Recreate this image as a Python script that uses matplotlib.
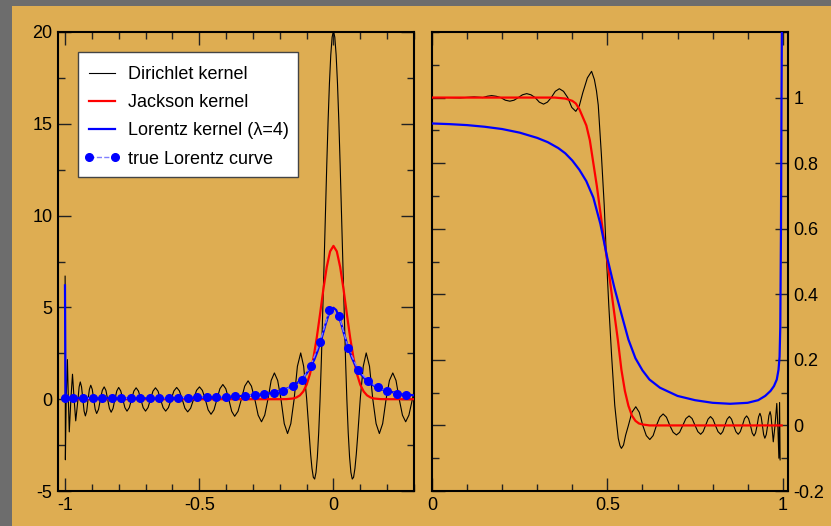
import matplotlib
matplotlib.use('Agg')
import matplotlib.pyplot as plt
from matplotlib.patches import Rectangle
from matplotlib.lines import Line2D
from matplotlib.ticker import MultipleLocator, FixedLocator

plt.rcParams['font.family'] = ['Liberation Sans', 'DejaVu Sans']
plt.rcParams['axes.unicode_minus'] = False

# ---- left panel: approximations of delta(x), N = 64 ----
dir_x = [-0.9995, -0.9985, -0.9955, -0.991, -0.9875, -0.984, -0.978, -0.972, -0.966, -0.960,
         -0.9515, -0.9473, -0.943, -0.9383, -0.9335, -0.9288, -0.924, -0.919, -0.914,
         -0.909, -0.904, -0.8985, -0.893, -0.8875, -0.882, -0.875, -0.868,
         -0.861, -0.854, -0.8475, -0.841, -0.8345, -0.828, -0.821, -0.814,
         -0.807, -0.800, -0.7923, -0.7845, -0.7768, -0.769, -0.7605, -0.752,
         -0.7435, -0.735, -0.7263, -0.7175, -0.7088, -0.700, -0.6908, -0.6815,
         -0.6723, -0.663, -0.6535, -0.644, -0.6345, -0.625, -0.6148, -0.6045,
         -0.5943, -0.584, -0.5738, -0.5635, -0.5533, -0.543, -0.532, -0.521,
         -0.510, -0.499, -0.4883, -0.4775, -0.4668, -0.456, -0.445, -0.434,
         -0.423, -0.412, -0.401, -0.390, -0.379, -0.368, -0.3555, -0.343,
         -0.3305, -0.318, -0.3055, -0.293, -0.2805, -0.268, -0.256, -0.244,
         -0.232, -0.220, -0.2078, -0.1955, -0.1833, -0.171, -0.1588, -0.1465,
         -0.1343, -0.122, -0.111, -0.100, -0.095, -0.090, -0.085, -0.080, -0.075,
         -0.070, -0.065, -0.060, -0.055, -0.050, -0.045, -0.040, -0.035, -0.030,
         -0.025, -0.020, -0.015, -0.010, -0.005, 0.0, 0.005, 0.010, 0.015, 0.020,
         0.025, 0.030, 0.035, 0.040, 0.045, 0.050, 0.055, 0.060, 0.065, 0.070,
         0.075, 0.080, 0.085, 0.090, 0.095, 0.100, 0.111, 0.122, 0.1343, 0.1465,
         0.1588, 0.171, 0.1833, 0.196, 0.2085, 0.221, 0.233, 0.245, 0.257, 0.269,
         0.281, 0.294, 0.302]
dir_y = [6.7, -3.3, 0.0, 2.16, 0.0, -1.78, 0.0, 1.36, 0.0, -1.18,
         0.0, 0.67, 0.94, 0.67, 0.0, -0.65, -0.91, -0.65, 0.0,
         0.54, 0.76, 0.54, 0.0, -0.55, -0.78, -0.55, 0.0,
         0.48, 0.67, 0.48, 0.0, -0.50, -0.71, -0.50, 0.0,
         0.45, 0.64, 0.45, 0.0, -0.46, -0.65, -0.46, 0.0,
         0.44, 0.62, 0.44, 0.0, -0.46, -0.65, -0.46, 0.0,
         0.44, 0.62, 0.44, 0.0, -0.46, -0.65, -0.46, 0.0,
         0.45, 0.64, 0.45, 0.0, -0.49, -0.69, -0.49, 0.0,
         0.48, 0.67, 0.48, 0.0, -0.58, -0.82, -0.58, 0.0,
         0.57, 0.80, 0.57, 0.0, -0.66, -0.93, -0.66, 0.0,
         0.71, 1.00, 0.71, 0.0, -0.87, -1.23, -0.87, 0.0,
         1.02, 1.43, 1.02, 0.0, -1.33, -1.87, -1.33, 0.0,
         1.79, 2.52, 1.79, 0.05, -0.98, -2.04, -3.00, -3.77, -4.25,
         -4.35, -3.99, -3.15, -1.83, -0.05, 2.14, 4.64, 7.33, 10.08,
         12.73, 15.15, 17.2, 18.75, 19.72, 20.05, 19.72, 18.75, 17.2, 15.15,
         12.73, 10.08, 7.33, 4.64, 2.14, -0.05, -1.83, -3.15, -3.99, -4.35,
         -4.25, -3.77, -3.00, -2.04, -0.98, 0.05, 1.79, 2.52, 1.79, 0.0,
         -1.33, -1.87, -1.33, 0.0, 1.02, 1.43, 1.02, 0.0, -0.87, -1.23,
         -0.87, 0.0, 0.6]

jack_x = [-1.0, -0.5, -0.2, -0.175, -0.15, -0.1375, -0.125, -0.1125, -0.1, -0.0875,
          -0.075, -0.0625, -0.05, -0.0375, -0.025, -0.0125, 0.0, 0.0125, 0.025, 0.0375,
          0.05, 0.0625, 0.075, 0.0875, 0.1, 0.1125, 0.125, 0.1375, 0.15, 0.175,
          0.2, 0.3]
jack_y = [0.0, 0.0, 0.0, 0.005, 0.04, 0.10, 0.21, 0.42, 0.79, 1.37,
          2.21, 3.32, 4.63, 5.99, 7.20, 8.05, 8.35, 8.05, 7.20, 5.99,
          4.63, 3.32, 2.21, 1.37, 0.79, 0.42, 0.21, 0.10, 0.04, 0.005,
          0.0, 0.0]

lor_x = [-1.0, -0.998, -0.99, -0.9, -0.8, -0.7, -0.6, -0.5, -0.4, -0.3, -0.25, -0.2,
         -0.18, -0.16, -0.14, -0.12, -0.1, -0.09, -0.08, -0.07, -0.06, -0.05, -0.04,
         -0.03, -0.02, -0.01, 0.0, 0.01, 0.02, 0.03, 0.04, 0.05, 0.06, 0.07, 0.08,
         0.09, 0.1, 0.12, 0.14, 0.16, 0.18, 0.2, 0.25, 0.3]
lor_y = [6.2, 0.3, 0.06, 0.05, 0.05, 0.05, 0.06, 0.08, 0.12, 0.21, 0.29, 0.44,
         0.54, 0.66, 0.83, 1.06, 1.40, 1.62, 1.89, 2.21, 2.59, 3.04, 3.53,
         4.05, 4.52, 4.86, 4.98, 4.86, 4.52, 4.05, 3.53, 3.04, 2.59, 2.21, 1.89,
         1.62, 1.40, 1.06, 0.83, 0.66, 0.54, 0.44, 0.29, 0.21]

true_x = [-1.0, -0.969, -0.933, -0.897, -0.862, -0.826, -0.791, -0.755, -0.719, -0.684,
          -0.648, -0.612, -0.578, -0.543, -0.508, -0.472, -0.437, -0.401, -0.365, -0.329,
          -0.294, -0.259, -0.222, -0.187, -0.152, -0.116, -0.085, -0.050, -0.015, 0.021,
          0.055, 0.092, 0.130, 0.165, 0.199, 0.235, 0.271]
true_y = [0.05, 0.05, 0.05, 0.05, 0.05, 0.06, 0.06, 0.06, 0.06, 0.07,
          0.07, 0.08, 0.08, 0.09, 0.10, 0.11, 0.12, 0.14, 0.16, 0.19,
          0.23, 0.28, 0.36, 0.47, 0.71, 1.07, 1.80, 3.14, 4.85, 4.54,
          2.79, 1.60, 0.98, 0.64, 0.44, 0.31, 0.23]

# ---- right panel: approximations of a step function ----
rdir_x = [0.0, 0.04, 0.08, 0.12, 0.145, 0.1575, 0.170, 0.183, 0.196, 0.209,
          0.222, 0.234, 0.246, 0.258, 0.270, 0.282, 0.294, 0.306, 0.318, 0.329,
          0.340, 0.3515, 0.363, 0.375, 0.387, 0.3985, 0.410, 0.420, 0.430, 0.443,
          0.455, 0.463, 0.469, 0.474, 0.483, 0.491, 0.497, 0.504, 0.512, 0.521,
          0.527, 0.531, 0.536, 0.540, 0.546, 0.552, 0.560, 0.570, 0.581, 0.591,
          0.601, 0.611, 0.621, 0.6305, 0.640, 0.6495, 0.659, 0.6685, 0.678, 0.6875,
          0.697, 0.706, 0.715, 0.724, 0.733, 0.7415, 0.750, 0.758, 0.766, 0.773,
          0.780, 0.787, 0.794, 0.801, 0.808, 0.8155, 0.823, 0.829, 0.835, 0.8415,
          0.848, 0.854, 0.860, 0.8665, 0.873, 0.879, 0.885, 0.891, 0.897, 0.9025,
          0.908, 0.913, 0.918, 0.9225, 0.927, 0.931, 0.935, 0.9385, 0.942, 0.9455,
          0.949, 0.953, 0.957, 0.9605, 0.964, 0.9665, 0.969, 0.973, 0.978, 0.983,
          0.986, 0.989, 0.991, 0.9925]
rdir_y = [1.0, 1.0, 0.999, 1.002, 1.0, 1.004, 1.006, 1.004, 1.0, 0.992,
          0.989, 0.992, 1.0, 1.0085, 1.012, 1.0085, 1.0, 0.986, 0.980, 0.986,
          1.0, 1.019, 1.027, 1.019, 1.0, 0.970, 0.958, 0.975, 1.015, 1.06,
          1.080, 1.055, 1.02, 0.977, 0.825, 0.672, 0.52, 0.367, 0.214, 0.062,
          0.0, -0.039, -0.062, -0.070, -0.06, -0.03, 0.0, 0.04, 0.057, 0.04,
          0.0, -0.031, -0.043, -0.031, 0.0, 0.025, 0.035, 0.025, 0.0, -0.021,
          -0.029, -0.021, 0.0, 0.021, 0.029, 0.021, 0.0, -0.019, -0.027, -0.019,
          0.0, 0.019, 0.027, 0.019, 0.0, -0.019, -0.027, -0.019, 0.0, 0.019,
          0.027, 0.019, 0.0, -0.019, -0.027, -0.019, 0.0, 0.021, 0.029, 0.021,
          0.0, -0.023, -0.032, -0.023, 0.0, 0.026, 0.037, 0.026, 0.0, -0.028,
          -0.039, -0.028, 0.0, 0.03, 0.042, 0.03, 0.0, -0.05, 0.0, 0.067,
          0.0, -0.10, 0.07, -0.105]

rjack_x = [0.0, 0.35, 0.38, 0.40, 0.41, 0.42, 0.43, 0.44, 0.45, 0.46,
           0.47, 0.48, 0.49, 0.50, 0.51, 0.52, 0.53, 0.54, 0.55, 0.56,
           0.57, 0.58, 0.59, 0.60, 0.62, 0.997]
rjack_y = [1.0, 1.0, 0.997, 0.99, 0.982, 0.965, 0.94, 0.915, 0.87, 0.80,
           0.73, 0.65, 0.57, 0.50, 0.42, 0.34, 0.26, 0.17, 0.105, 0.06,
           0.03, 0.014, 0.006, 0.003, 0.0, 0.0]

rlor_x = [0.0, 0.05, 0.1, 0.15, 0.2, 0.25, 0.3, 0.33, 0.36, 0.38,
          0.40, 0.42, 0.44, 0.46, 0.48, 0.50, 0.52, 0.54, 0.56, 0.58,
          0.60, 0.62, 0.65, 0.70, 0.75, 0.80, 0.85, 0.90, 0.93, 0.95,
          0.965, 0.975, 0.983, 0.988, 0.991, 0.993, 0.995, 0.9965, 0.998]
rlor_y = [0.921, 0.919, 0.916, 0.911, 0.904, 0.893, 0.877, 0.864, 0.846, 0.83,
          0.808, 0.78, 0.745, 0.695, 0.615, 0.51, 0.42, 0.34, 0.262, 0.205,
          0.168, 0.140, 0.115, 0.090, 0.077, 0.069, 0.066, 0.069, 0.077, 0.09,
          0.105, 0.12, 0.14, 0.17, 0.21, 0.3, 0.6, 1.0, 1.3]

gold = '#DEAD52'
fig = plt.figure(figsize=(8.31, 5.26), dpi=100)
fig.patch.set_facecolor('#6d6d6d')
fig.add_artist(Rectangle((12 / 831, 0), 1, 520 / 526, transform=fig.transFigure,
                         facecolor=gold, edgecolor='none', zorder=0))

ax1 = fig.add_axes([58 / 831, 35 / 526, 356 / 831, 459 / 526])
ax2 = fig.add_axes([432 / 831, 35 / 526, 356 / 831, 459 / 526])

ax1.plot(dir_x, dir_y, color='black', lw=0.8, zorder=2)
ax1.plot(jack_x, jack_y, color='#ff0000', lw=1.6, zorder=3)
ax1.plot(lor_x, lor_y, color='#0000ff', lw=1.6, zorder=4)
ax1.plot(true_x, true_y, color='#8080ff', ls='--', lw=1.0, marker='o', ms=5.5,
         mfc='#0000ff', mec='#0000ff', zorder=5)

ax2.plot(rdir_x, rdir_y, color='black', lw=0.8, zorder=2)
ax2.plot(rjack_x, rjack_y, color='#ff0000', lw=1.6, zorder=3)
ax2.plot(rlor_x, rlor_y, color='#0000ff', lw=1.6, zorder=4)

ax1.set_xlim(-1.026, 0.3)
ax1.set_ylim(-5, 20)
ax1.xaxis.set_major_locator(FixedLocator([-1, -0.5, 0]))
ax1.set_xticklabels(['-1', '-0.5', '0'])
ax1.xaxis.set_minor_locator(MultipleLocator(0.1))
ax1.set_yticks([-5, 0, 5, 10, 15, 20])
ax1.set_yticklabels(['-5', '0', '5', '10', '15', '20'])
ax1.yaxis.set_minor_locator(MultipleLocator(2.5))

ax2.set_xlim(0, 1.015)
ax2.set_ylim(-0.2, 1.2)
ax2.set_xticks([0, 0.5, 1])
ax2.set_xticklabels(['0', '0.5', '1'])
ax2.xaxis.set_minor_locator(MultipleLocator(0.1))
ax2.set_yticks([-0.2, 0, 0.2, 0.4, 0.6, 0.8, 1.0])
ax2.set_yticklabels(['-0.2', '0', '0.2', '0.4', '0.6', '0.8', '1'])
ax2.yaxis.set_minor_locator(MultipleLocator(0.1))

for ax in (ax1, ax2):
    ax.set_facecolor('none')
    for s in ax.spines.values():
        s.set_linewidth(1.5)
    ax.tick_params(which='both', direction='in', top=True, right=True,
                   width=1.0, color='#222222', labelsize=13, pad=4)
    ax.tick_params(which='major', length=9.5)
    ax.tick_params(which='minor', length=4.8)
ax2.tick_params(labelleft=False, labelright=True)

# legend: white box drawn separately, entries placed on top of it
ax1.add_patch(Rectangle((0.0562, 0.684), 0.618, 0.2724, transform=ax1.transAxes,
                        facecolor='white', edgecolor='#444444', lw=1.0, zorder=9))
handles = [
    Line2D([], [], color='black', lw=0.8),
    Line2D([], [], color='#ff0000', lw=1.6),
    Line2D([], [], color='#0000ff', lw=1.6),
    Line2D([], [], color='#8080ff', ls='--', lw=1.0, marker='o', ms=5.5,
           mfc='#0000ff', mec='#0000ff'),
]
labels = ['Dirichlet kernel', 'Jackson kernel', 'Lorentz kernel (\u03bb=4)', 'true Lorentz curve']
leg = ax1.legend(handles, labels, loc='upper left', bbox_to_anchor=(0.0478, 0.9455),
                 borderaxespad=0, fontsize=13, frameon=False, numpoints=2,
                 handlelength=2.0, handletextpad=0.45, labelspacing=0.62, borderpad=0.5)
leg.set_zorder(10)

fig.savefig('out.png', dpi=100, facecolor=fig.get_facecolor())
